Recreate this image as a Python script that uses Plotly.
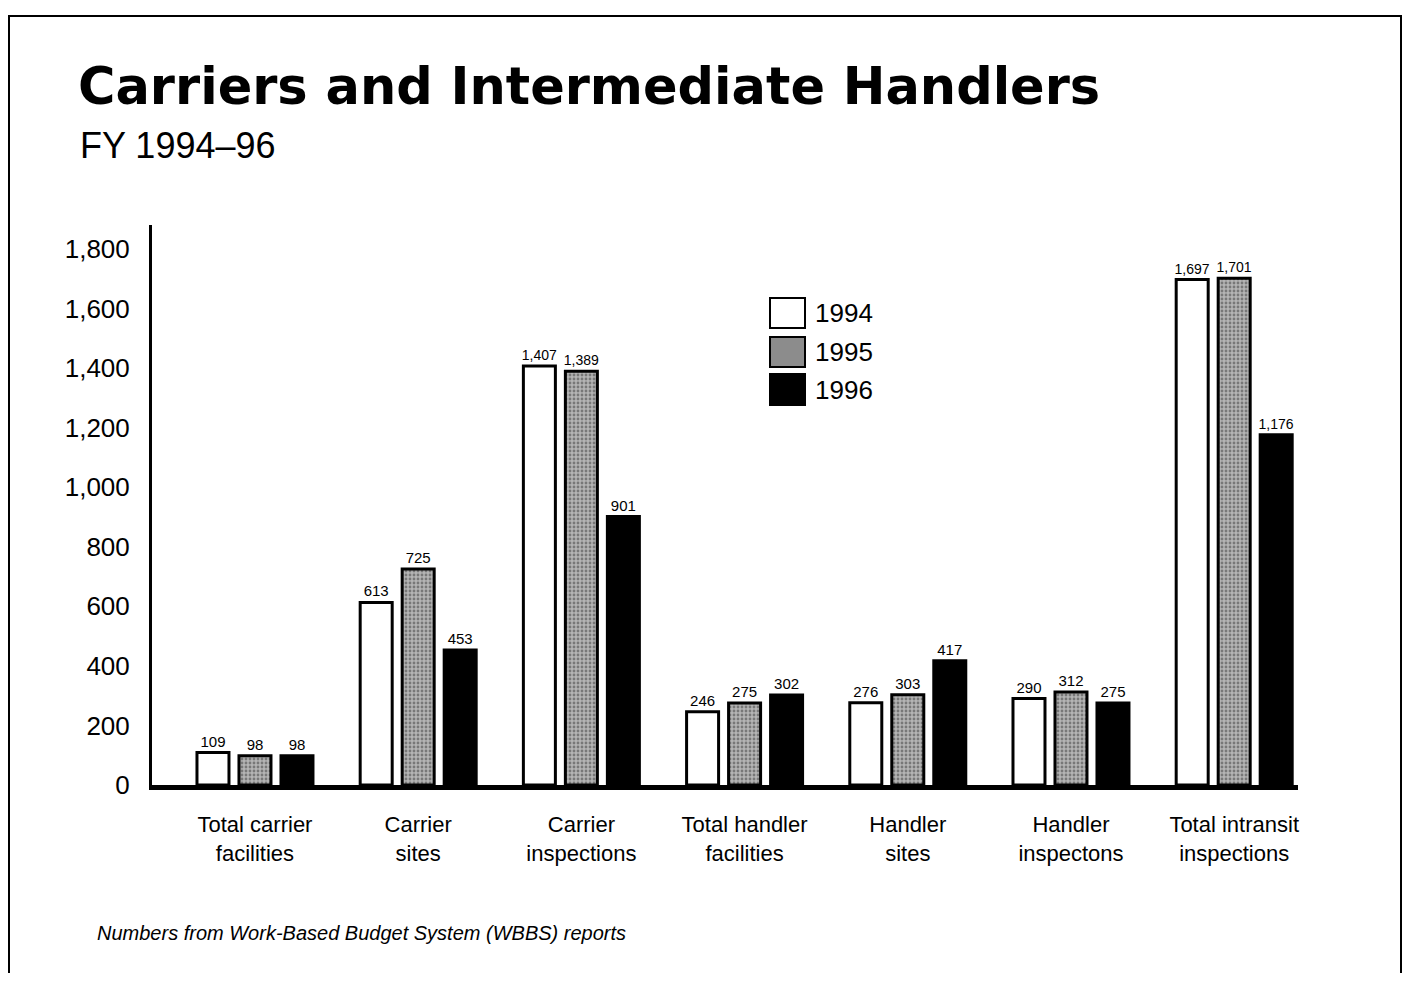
import plotly.graph_objects as go

categories = ["Total carrier<br>facilities", "Carrier<br>sites", "Carrier<br>inspections",
              "Total handler<br>facilities", "Handler<br>sites", "Handler<br>inspectons",
              "Total intransit<br>inspections"]
years = ["1994", "1995", "1996"]
v1994 = [109, 613, 1407, 246, 276, 290, 1697]
v1995 = [98, 725, 1389, 275, 303, 312, 1701]
v1996 = [98, 453, 901, 302, 417, 275, 1176]
y_ticks = [0, 200, 400, 600, 800, 1000, 1200, 1400, 1600, 1800]

FONT = "Liberation Sans, Arial, Helvetica, sans-serif"
TITLE_FONT = "DejaVu Sans, Liberation Sans, Arial, sans-serif"

# page has an 8px body margin; work in page pixel coordinates
OFF = 8
W, H = 1413 - OFF, 981 - 2 * OFF
L, R, T, B = 152 - OFF, 1298 - OFF, 225 - OFF, 785 - OFF


def px(x):
    return (x - OFF - L) / (R - L)


def py(y):
    return (B - (y - OFF)) / (B - T)


fig = go.Figure()
styles = [
    dict(color="white"),
    dict(color="#a8a8a8", pattern=dict(shape=".", fgcolor="#3a3a3a", bgcolor="#b4b4b4",
                                        size=4, solidity=0.4, fillmode="overlay")),
    dict(color="black"),
]
for name, vals, st in zip(years, [v1994, v1995, v1996], styles):
    fig.add_trace(go.Bar(
        x=categories, y=vals, name=name,
        marker=dict(line=dict(color="black", width=3), **st),
        texttemplate="%{y:,}", textposition="outside", cliponaxis=False,
        constraintext="none",
        textfont=dict(size=[14 if v >= 1000 else 15 for v in vals], color="black", family=FONT),
        showlegend=False,
    ))

shapes = [
    dict(type="rect", xref="paper", yref="paper", x0=px(9), x1=px(1401), y0=py(1010), y1=py(16),
         line=dict(color="black", width=2), fillcolor="rgba(0,0,0,0)", layer="below"),
]
legend_fill = ["white", "#8c8c8c", "black"]
legend_boxes = [(298, 328), (337, 367), (374, 405)]
annotations = []
for name, fill, (y0, y1) in zip(years, legend_fill, legend_boxes):
    shapes.append(dict(type="rect", xref="paper", yref="paper", x0=px(770), x1=px(805),
                       y0=py(y1), y1=py(y0), fillcolor=fill, line=dict(color="black", width=2)))
    annotations.append(dict(xref="paper", yref="paper", x=px(813), y=py((y0 + y1) / 2),
                            text=name, showarrow=False, xanchor="left", yanchor="middle",
                            font=dict(size=26, color="black", family=FONT)))

annotations += [
    dict(xref="paper", yref="paper", x=px(76), y=py(86), text="<b>Carriers and Intermediate Handlers</b>",
         showarrow=False, xanchor="left", yanchor="middle",
         font=dict(size=51, color="black", family=TITLE_FONT)),
    dict(xref="paper", yref="paper", x=px(78), y=py(145), text="FY 1994–96",
         showarrow=False, xanchor="left", yanchor="middle",
         font=dict(size=36, color="black", family=FONT)),
    dict(xref="paper", yref="paper", x=px(95), y=py(933),
         text="<i>Numbers from Work-Based Budget System (WBBS) reports</i>",
         showarrow=False, xanchor="left", yanchor="middle",
         font=dict(size=20, color="black", family=FONT)),
]

fig.update_layout(
    width=W, height=H,
    margin=dict(l=L, r=W - R, t=T, b=H - B, pad=0),
    paper_bgcolor="white", plot_bgcolor="white",
    barmode="group", bargap=0.228, bargroupgap=0.238,
    font=dict(family=FONT, color="black"),
    shapes=shapes, annotations=annotations,
    xaxis=dict(type="category", range=[-0.631, 6.391], showline=True, linecolor="black", linewidth=5,
               ticks="", showgrid=False, zeroline=False, ticklabelstandoff=16,
               tickfont=dict(size=22, color="black", family=FONT)),
    yaxis=dict(range=[0, 1880], tickvals=y_ticks, tickformat=",", showline=True, linecolor="black",
               linewidth=3, ticks="", showgrid=False, zeroline=False, ticklabelstandoff=14,
               tickfont=dict(size=26, color="black", family=FONT)),
)

fig.write_html("out.html")
